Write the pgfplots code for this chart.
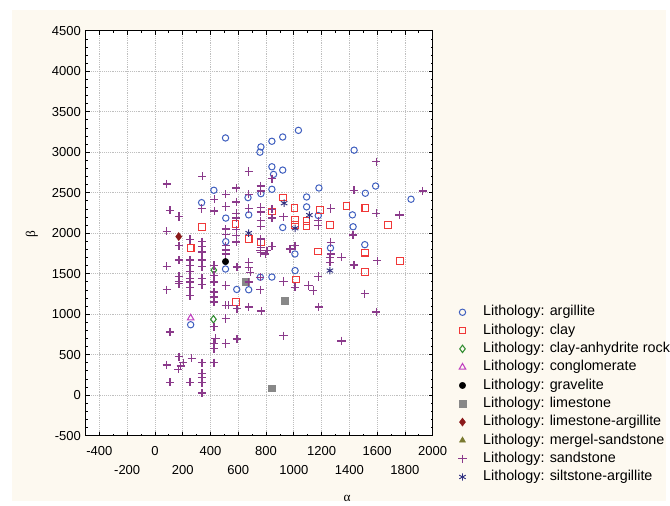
\documentclass[border=0pt]{standalone}
\usepackage{fontspec}
\setmainfont{Liberation Sans}
\newfontfamily\greekserif{Liberation Serif}
\usepackage{pgfplots}
\pgfplotsset{compat=1.18}
\definecolor{bgcream}{HTML}{FDF9F0}
\definecolor{cArg}{HTML}{3F5FBF}
\definecolor{cClay}{HTML}{F03838}
\definecolor{cAnh}{HTML}{2E8B2E}
\definecolor{cCong}{HTML}{C040C0}
\definecolor{cLime}{HTML}{888888}
\definecolor{cLimeArg}{HTML}{8B1A1A}
\definecolor{cMerg}{HTML}{7A7A30}
\definecolor{cSand}{HTML}{8B3A8B}
\definecolor{cSilt}{HTML}{303080}

\begin{document}
\begin{tikzpicture}
\begin{scope}[x=0.75pt,y=0.75pt]
\fill[white] (0,0) rectangle (670,504);
\fill[bgcream] (12,0) rectangle (670,494);
\useasboundingbox (0,0) rectangle (670,504);
\end{scope}
\begin{axis}[
  at={(64.5pt,49.5pt)}, anchor=south west,
  scale only axis, width=261.75pt, height=305.25pt,
  xmin=-500, xmax=2000, ymin=-500, ymax=4500,
  axis background/.style={fill=white},
  axis line style={line width=0.9pt},
  xtick={-400,0,...,2000},
  extra x ticks={-200,200,...,1800},
  extra x tick style={grid=major, xticklabel style={yshift=-14.5pt}},
  minor xtick={-500,-300,...,1900},
  ytick={-500,0,...,4500}, minor y tick num=4,
  grid=major, grid style={densely dotted, gray!50, line width=0.5pt},
  tick align=inside, major tick length=3pt, minor tick length=1.6pt,
  tick style={black, line width=0.6pt},
  scaled ticks=false,
  /pgf/number format/assume math mode=true,
  /pgf/number format/1000 sep={},
  ticklabel style={font=\fontsize{9.8}{11}\selectfont},
  xticklabel style={yshift=-4.5pt},
  legend cell align=left,
  legend style={at={(axis description cs:1.074,0.322)}, anchor=north west,
    draw=none, fill=none, inner sep=0pt, outer sep=0pt,
    font=\fontsize{10.8}{13}\selectfont,
    nodes={inner sep=0pt, text height=8pt, text depth=2.5pt},
    row sep=3.3pt,
    /tikz/every odd column/.append style={column sep=12.5pt}},
]
% argillite
\addplot[only marks, mark=o, mark size=2.4pt, color=cArg, mark options={line width=0.75pt}] coordinates {
(508,3177) (1033,3271) (920,3189) (842,3136) (763,3066) (756,3001) (1434,3026)
(842,2821) (854,2727) (920,2780) (842,2543) (763,2489) (1181,2559) (1515,2494)
(1589,2583) (1844,2420) (1092,2448) (1092,2326) (1422,2227) (1427,2080) (1176,2219)
(920,2071) (675,2227) (424,2531) (336,2378) (510,2187) (510,1896) (1511,1859)
(1264,1818) (1008,1744) (1009,1539) (508,1558) (759,1457) (842,1459) (589,1306)
(675,1302) (257,870) (670,2440)};
\addlegendentry{Lithology: argillite}
% clay
\addplot[only marks, mark=square, mark size=2.5pt, color=cClay, mark options={line width=0.8pt}] coordinates {
(920,2440) (1004,2310) (1188,2285) (1379,2334) (1515,2310) (1678,2104) (1009,2162)
(1092,2154) (1092,2092) (1260,2104) (842,2268) (763,1887) (1511,1760) (1176,1776)
(1766,1656) (1511,1523) (1014,1429) (584,1150) (338,2080) (257,1818) (580,2113)
(675,1929) (1009,2104)};
\addlegendentry{Lithology: clay}
% clay-anhydrite rock
\addplot[only marks, mark=diamond, mark size=2.8pt, color=cAnh, mark options={line width=0.8pt}] coordinates {
(424,1545) (421,937)};
\addlegendentry{Lithology: clay-anhydrite rock}
% conglomerate
\addplot[only marks, mark=triangle, mark size=2.8pt, color=cCong, mark options={line width=0.8pt}] coordinates {
(257,953)};
\addlegendentry{Lithology: conglomerate}
% gravelite
\addplot[only marks, mark=*, mark size=2.4pt, color=black] coordinates {
(508,1650)};
\addlegendentry{Lithology: gravelite}
% limestone
\addplot[only marks, mark=square*, mark size=2.6pt, color=cLime] coordinates {
(933,1171) (842,86) (655,1402)};
\addlegendentry{Lithology: limestone}
% limestone-argillite
\addplot[only marks, mark=diamond*, mark size=3pt, color=cLimeArg] coordinates {
(171,1959)};
\addlegendentry{Lithology: limestone-argillite}
% mergel-sandstone (no visible points)
\addlegendimage{only marks, mark=triangle*, mark size=2.6pt, color=cMerg}
\addlegendentry{Lithology: mergel-sandstone}
% sandstone
\addplot[only marks, mark=+, mark size=3.1pt, color=cSand, mark options={line width=1pt}] coordinates {
(340,2705) (84,2608) (510,2482) (336,2305) (427,2420) (427,2276) (109,2285) (510,2329)
(173,2206) (85,2025) (510,2052) (510,1982) (173,1846) (252,1924) (338,1896) (338,1834)
(338,1776) (510,1846) (510,1794) (510,1744)
(585,2558) (585,2386) (585,2246) (585,2187) (585,2043) (585,1970) (585,1890)
(675,2762) (675,2482) (675,2305)
(761,2583) (761,2522) (761,2317) (761,2264) (761,2154) (761,2086) (761,1929) (761,1828) (761,1760)
(842,2673) (842,2297) (842,2187) (842,1840)
(925,2203) (973,1806) (1176,2154) (1176,2092) (1266,2307) (1266,1887) (1266,1744) (1343,1703)
(1427,1978) (1434,2531) (1594,2882) (1594,2248) (1761,2227) (1928,2522) (794,1744) (1009,1846)
(84,1592) (84,1302) (84,372) (109,781) (109,160)
(173,1671) (173,1466) (173,1408) (173,1376) (173,474) (204,400) (186,360) (168,319)
(252,1671) (252,1601) (252,1531) (252,1445) (252,1396) (252,1327) (252,1232) (252,160) (264,455)
(338,1764) (338,1671) (338,1588) (338,1445) (338,1364) (338,400) (338,270) (338,216) (338,155) (338,25)
(424,1601) (424,1478) (424,1396) (424,1273) (424,1211) (424,1150) (424,845) (436,700) (424,639) (424,577) (424,400)
(510,1355) (510,1109) (510,946) (510,639) (531,1109) (591,1582) (591,1069) (591,694)
(675,1641) (675,1580) (687,1518) (675,1396) (759,1785) (806,1785) (759,1457) (759,1302)
(925,1404) (1009,1334) (1105,1355) (1140,1294) (1176,1466) (675,1088) (766,1039) (1180,1088) (925,735)
(1260,1703) (1260,1641) (1434,1609) (1601,1662) (1511,1253) (1594,1027) (1343,671)};
\addlegendentry{Lithology: sandstone}
% siltstone-argillite
\addplot[only marks, mark=asterisk, mark size=2.8pt, color=cSilt, mark options={line width=0.7pt}] coordinates {
(930,2371) (1112,2224) (1009,2061) (675,2002) (1260,1539)};
\addlegendentry{Lithology: siltstone-argillite}
\end{axis}
\begin{scope}[x=0.75pt,y=0.75pt]
\node[font=\greekserif\fontsize{10}{12}\selectfont] at (349,3) {α};
\node[font=\greekserif\fontsize{10}{12}\selectfont, rotate=90] at (32,269) {β};
\end{scope}
\end{tikzpicture}
\end{document}
